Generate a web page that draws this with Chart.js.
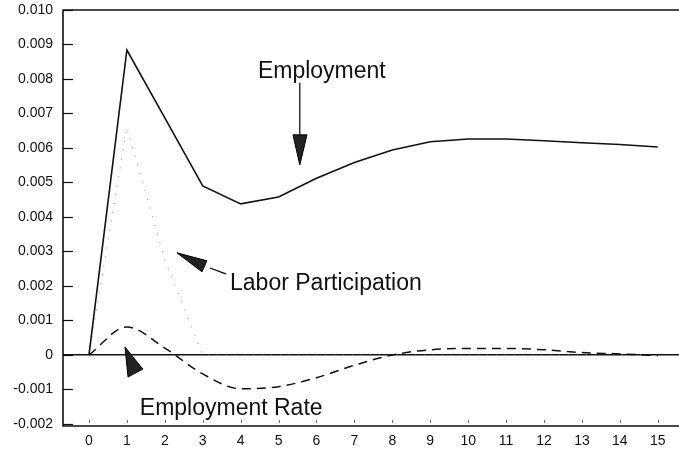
<!DOCTYPE html>
<html>
<head>
<meta charset="utf-8">
<script src="https://cdn.jsdelivr.net/npm/chart.js@4"></script>
<style>
  body { margin: 0; background: #fff; }
  canvas { display: block; }
</style>
</head>
<body>
<canvas id="impulseChart" width="679" height="454"></canvas>
<script>
// quarters after the shock
const periods = [0, 1, 2, 3, 4, 5, 6, 7, 8, 9, 10, 11, 12, 13, 14, 15];

// responses
const employment = [0, 0.00884, 0.00687, 0.00490, 0.00438, 0.00458, 0.00512, 0.00558,
    0.00594, 0.00618, 0.00626, 0.00626, 0.00621, 0.00615, 0.00610, 0.00603];
const laborParticipation = [0, 0.00661, 0.00275, 0.0000, 0, 0, 0, 0,
    0, 0, 0, 0, 0, 0, 0, 0];
const employmentRate = [0, 0.00081, 0.00020, -0.00055, -0.00098, -0.00092, -0.00066, -0.00030,
    0.00000, 0.00015, 0.00019, 0.00019, 0.00015, 0.00007, 0.00003, -0.00002];

const yTickValues = [-0.002, -0.001, 0, 0.001, 0.002, 0.003, 0.004, 0.005, 0.006, 0.007, 0.008, 0.009, 0.010];
const yTickLabels = ['-0.002', '-0.001', '0', '0.001', '0.002', '0.003', '0.004', '0.005', '0.006', '0.007', '0.008', '0.009', '0.010'];
const xTickLabels = ['0', '1', '2', '3', '4', '5', '6', '7', '8', '9', '10', '11', '12', '13', '14', '15'];

const fontFamily = '"Liberation Sans", Arial, sans-serif';

function toPoints(values) {
    return periods.map((p, i) => ({ x: p, y: values[i] }));
}

// frame, inner tick marks and the arrow labels of the original figure
const figureDecor = {
    id: 'figureDecor',
    afterDatasetsDraw(chart) {
        const c = chart.ctx;
        const a = chart.chartArea;
        const xs = chart.scales.x;
        const ys = chart.scales.y;
        const px = t => xs.getPixelForValue(t);
        const py = v => ys.getPixelForValue(v);

        c.save();
        c.strokeStyle = '#111';
        c.lineWidth = 1.6;
        c.beginPath();
        c.moveTo(a.right, a.top);
        c.lineTo(a.left, a.top);
        c.lineTo(a.left, a.bottom);
        c.lineTo(a.right, a.bottom);
        c.stroke();

        // y ticks inside the frame
        c.lineWidth = 1.2;
        yTickValues.forEach(v => {
            const y = Math.round(py(v)) + 0.5;
            c.beginPath();
            c.moveTo(a.left, y);
            c.lineTo(a.left + 10, y);
            c.stroke();
        });
        // faint x ticks
        c.strokeStyle = '#777';
        c.lineWidth = 1;
        periods.forEach(p => {
            const x = Math.round(px(p)) + 0.5;
            c.beginPath();
            c.moveTo(x, a.bottom - 6);
            c.lineTo(x, a.bottom - 3);
            c.stroke();
        });

        function tri(pts) {
            c.beginPath();
            c.moveTo(px(pts[0][0]), py(pts[0][1]));
            c.lineTo(px(pts[1][0]), py(pts[1][1]));
            c.lineTo(px(pts[2][0]), py(pts[2][1]));
            c.closePath();
            c.fillStyle = '#222';
            c.fill();
            c.strokeStyle = '#000';
            c.lineWidth = 1;
            c.stroke();
        }

        c.fillStyle = '#111';
        c.font = '23px ' + fontFamily;
        c.textBaseline = 'alphabetic';

        // Employment
        c.textAlign = 'center';
        c.fillText('Employment', px(6.14), py(0.00803));
        c.strokeStyle = '#000';
        c.lineWidth = 1.2;
        c.beginPath();
        c.moveTo(px(5.56), py(0.00789));
        c.lineTo(px(5.56), py(0.00638));
        c.stroke();
        tri([[5.38, 0.00638], [5.75, 0.00638], [5.56, 0.00551]]);

        // Labor Participation
        c.fillStyle = '#111';
        c.textAlign = 'left';
        c.fillText('Labor Participation', px(3.72), py(0.00188));
        c.strokeStyle = '#000';
        c.lineWidth = 1.2;
        c.beginPath();
        c.moveTo(px(3.19), py(0.00252));
        c.lineTo(px(3.61), py(0.00235));
        c.stroke();
        tri([[2.32, 0.00296], [3.11, 0.00273], [2.98, 0.00241]]);

        // Employment Rate
        c.fillStyle = '#111';
        c.fillText('Employment Rate', px(1.34), py(-0.00174));
        tri([[0.95, 0.00023], [1.03, -0.00064], [1.42, -0.00041]]);

        c.restore();
    }
};

const ctx = document.getElementById('impulseChart').getContext('2d');
const chart = new Chart(ctx, {
    type: 'line',
    data: {
        datasets: [
            {
                label: 'Employment',
                data: toPoints(employment),
                borderColor: '#111',
                borderWidth: 1.6,
                tension: 0,
                pointRadius: 0
            },
            {
                label: 'Employment Rate',
                data: toPoints(employmentRate),
                borderColor: '#111',
                borderWidth: 1.5,
                borderDash: [9, 6],
                cubicInterpolationMode: 'monotone',
                pointRadius: 0
            },
            {
                label: 'Labor Participation',
                data: toPoints(laborParticipation),
                borderColor: '#8a8a8a',
                borderWidth: 1,
                borderDash: [1, 8],
                tension: 0,
                pointRadius: 0
            }
        ]
    },
    options: {
        responsive: false,
        animation: false,
        layout: { padding: { top: 10, right: 0, left: 0, bottom: 0 } },
        plugins: {
            legend: { display: false },
            tooltip: { enabled: false }
        },
        scales: {
            x: {
                type: 'linear',
                min: -0.685,
                max: 15.56,
                afterBuildTicks: scale => {
                    scale.ticks = periods.map(p => ({ value: p }));
                },
                afterFit: scale => {
                    scale.height = 28;
                    scale.paddingLeft = 0;
                    scale.paddingRight = 0;
                },
                ticks: {
                    autoSkip: false,
                    maxRotation: 0,
                    padding: 7,
                    color: '#111',
                    font: { family: fontFamily, size: 14 },
                    callback: (v) => xTickLabels[periods.indexOf(v)]
                },
                grid: { display: false, drawTicks: false },
                border: { display: false }
            },
            y: {
                min: -0.00206,
                max: 0.0100,
                afterBuildTicks: scale => {
                    scale.ticks = yTickValues.map(v => ({ value: v }));
                },
                afterFit: scale => {
                    scale.width = 63;
                    scale.paddingTop = 0;
                    scale.paddingBottom = 0;
                },
                ticks: {
                    autoSkip: false,
                    padding: 10,
                    color: '#111',
                    font: { family: fontFamily, size: 14 },
                    callback: (v) => yTickLabels[yTickValues.indexOf(v)]
                },
                grid: {
                    drawTicks: false,
                    lineWidth: 1.6,
                    color: c => (c.tick && c.tick.value === 0 ? '#111' : 'rgba(0,0,0,0)')
                },
                border: { display: false }
            }
        }
    },
    plugins: [figureDecor]
});
</script>
</body>
</html>
